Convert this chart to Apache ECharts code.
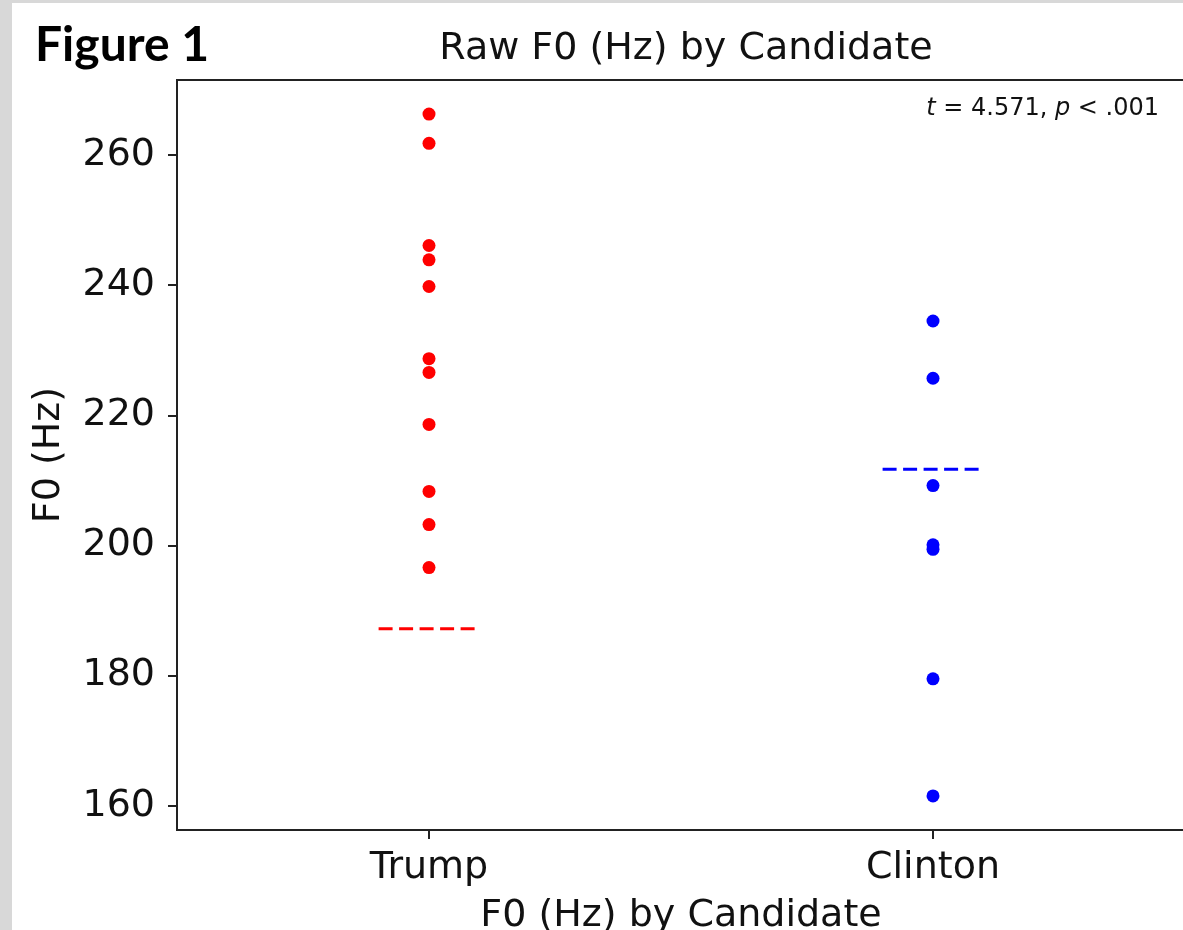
<!DOCTYPE html>
<html>
<head>
<meta charset="utf-8">
<title>Raw F0 (Hz) by Candidate</title>
<script src="https://cdn.jsdelivr.net/npm/echarts@6/dist/echarts.min.js"></script>
<style>
  html, body { margin: 0; padding: 0; background: #d8d8d8; }
  #chart { width: 1183px; height: 930px; }
</style>
</head>
<body>
<div id="chart"></div>
<script>
// Candidates along the x axis (positions 0 and 1)
const candidates = ['Trump', 'Clinton'];
// Raw F0 measurements (Hz) per candidate
const trumpF0 = [266.3, 261.8, 246.1, 243.9, 239.8, 228.7, 226.6, 218.6, 208.3, 203.2, 196.6];
const clintonF0 = [234.5, 225.7, 209.2, 200.1, 199.4, 179.5, 161.5];
// Dashed reference level drawn for each candidate
const referenceF0 = [187.2, 211.7];
// Y tick labels
const yTicks = [160, 180, 200, 220, 240, 260];
// Test statistic annotation
const statT = '4.571';
const statP = '.001';

const colors = ['#ff0000', '#0000ff'];
const groups = [trumpF0, clintonF0];

// y range: data extent padded by 5% on both sides
const all = trumpF0.concat(clintonF0);
const dMin = Math.min(...all), dMax = Math.max(...all);
const pad = (dMax - dMin) * 0.05;
const yMin = dMin - pad, yMax = dMax + pad;

const labelFont = 'DejaVu Sans, sans-serif';

const series = [];
groups.forEach((vals, i) => {
  series.push({
    name: candidates[i],
    type: 'scatter',
    data: vals.map(v => [i, v]),
    symbolSize: 13,
    itemStyle: { color: colors[i], opacity: 1 },
    z: 3
  });
  series.push({
    name: candidates[i] + ' level',
    type: 'line',
    data: [[i - 0.1, referenceF0[i]], [i + 0.1, referenceF0[i]]],
    showSymbol: false,
    symbol: 'none',
    lineStyle: { color: colors[i], width: 3, type: [14, 6.5] },
    z: 4
  });
});

const chart = echarts.init(document.getElementById('chart'), null, { renderer: 'canvas' });
chart.setOption({
  animation: false,
  backgroundColor: '#d8d8d8',
  title: [{
    text: 'Raw F0 (Hz) by Candidate',
    left: 681,
    textAlign: 'center',
    top: 25,
    textStyle: { fontFamily: labelFont, fontSize: 38, fontWeight: 'normal', color: '#111' }
  }],
  graphic: [
    { type: 'rect', z: -10, silent: true, shape: { x: 12, y: 3, width: 1171, height: 927 }, style: { fill: '#ffffff' } },
    {
      type: 'text', z: 10, silent: true, x: 35, y: 22,
      style: { text: 'Figure 1', fontFamily: 'Lato, Liberation Sans, sans-serif', fontWeight: 'bold', fontSize: 48, fill: '#000' }
    },
    {
      type: 'text', z: 10, silent: true, x: 1159, y: 97,
      style: {
        text: '{i|t} = ' + statT + ', {i|p} < ' + statP,
        align: 'right',
        fontFamily: labelFont, fontSize: 24, fill: '#111',
        rich: { i: { fontStyle: 'italic', fontFamily: labelFont, fontSize: 24, fill: '#111' } }
      }
    }
  ],
  grid: {
    left: 177, top: 80, right: -2, bottom: 100,
    containLabel: false, outerBoundsMode: 'none',
    show: true, borderColor: '#222', borderWidth: 2, backgroundColor: 'transparent'
  },
  xAxis: {
    type: 'value', min: -0.5, max: 1.5,
    name: 'F0 (Hz) by Candidate', nameLocation: 'middle', nameGap: 67,
    nameTextStyle: { fontFamily: labelFont, fontSize: 38, color: '#111' },
    axisLine: { show: false, onZero: false },
    splitLine: { show: false },
    axisTick: { show: true, customValues: [0, 1], length: 9, lineStyle: { color: '#222', width: 2 } },
    axisLabel: {
      customValues: [0, 1], margin: 19,
      formatter: v => candidates[Math.round(v)],
      fontFamily: labelFont, fontSize: 38, color: '#111'
    }
  },
  yAxis: {
    type: 'value', min: yMin, max: yMax,
    name: 'F0 (Hz)', nameLocation: 'middle', nameGap: 109,
    nameTextStyle: { fontFamily: labelFont, fontSize: 38, color: '#111' },
    axisLine: { show: false, onZero: false },
    splitLine: { show: false },
    axisTick: { show: true, customValues: yTicks, length: 9, lineStyle: { color: '#222', width: 2 } },
    axisLabel: {
      customValues: yTicks, margin: 22,
      fontFamily: labelFont, fontSize: 38, color: '#111'
    }
  },
  series: series
});
</script>
</body>
</html>
